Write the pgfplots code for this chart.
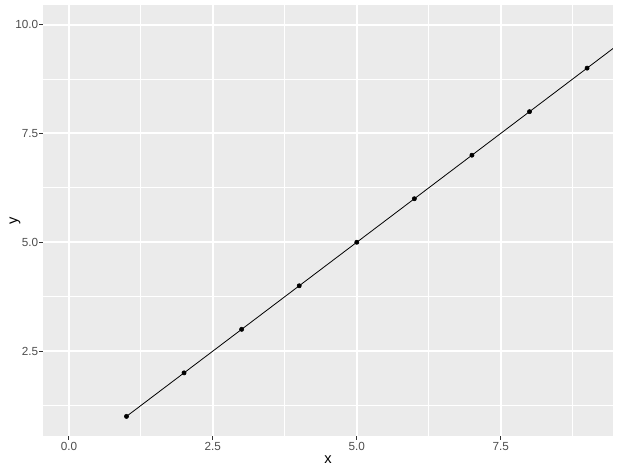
\documentclass[border=0pt]{standalone}
\usepackage{fontspec}
\setmainfont{Liberation Sans}
\usepackage{pgfplots}
\pgfplotsset{compat=1.18}
\definecolor{ggbg}{HTML}{EBEBEB}
\definecolor{ggtext}{HTML}{4D4D4D}
\definecolor{ggtick}{HTML}{333333}

\begin{document}
\begin{tikzpicture}[x=1pt,y=1pt]
\begin{axis}[at={(0,0)},anchor=south west,scale only axis,
  width=427.5pt,height=323.25pt,
  xmin=-0.45,xmax=9.45,ymin=0.55,ymax=10.45,
  axis background/.style={fill=ggbg},
  axis line style={draw=none},
  tick pos=left,tick align=outside,
  major tick length=2.75pt,minor tick length=0pt,
  tick style={ggtick,line width=0.7pt},
  xtick={0,2.5,5,7.5},ytick={2.5,5,7.5,10},
  minor xtick={1.25,3.75,6.25,8.75},minor ytick={1.25,3.75,6.25,8.75},
  grid=both,
  major grid style={white,line width=1.4pt},
  minor grid style={white,line width=0.7pt},
  /pgf/number format/.cd,fixed,fixed zerofill,precision=1,assume math mode=true,/pgfplots/.cd,
  tick label style={font=\fontsize{8.8}{10}\selectfont,text=ggtext},
  xticklabel style={inner sep=0pt,anchor=north,yshift=-1.6pt},
  yticklabel style={inner sep=0pt,anchor=east,xshift=-0.7pt},
  label style={font=\fontsize{11}{13}\selectfont,text=black},
  xlabel={x},ylabel={y},
  xlabel style={at={(axis description cs:0.5,-0.0557)},anchor=center},
  ylabel style={at={(axis description cs:-0.049,0.5)},anchor=center},
]
\addplot[black,line width=0.6pt] coordinates {(1,1)(10,10)};
\addplot[only marks,mark=*,mark size=1.6pt,black] coordinates {
(1,1)(2,2)(3,3)(4,4)(5,5)(6,6)(7,7)(8,8)(9,9)};
\end{axis}
\pgfresetboundingbox
\useasboundingbox (-32.25pt,-25.5pt) rectangle (431.25pt,327pt);
\end{tikzpicture}
\end{document}
